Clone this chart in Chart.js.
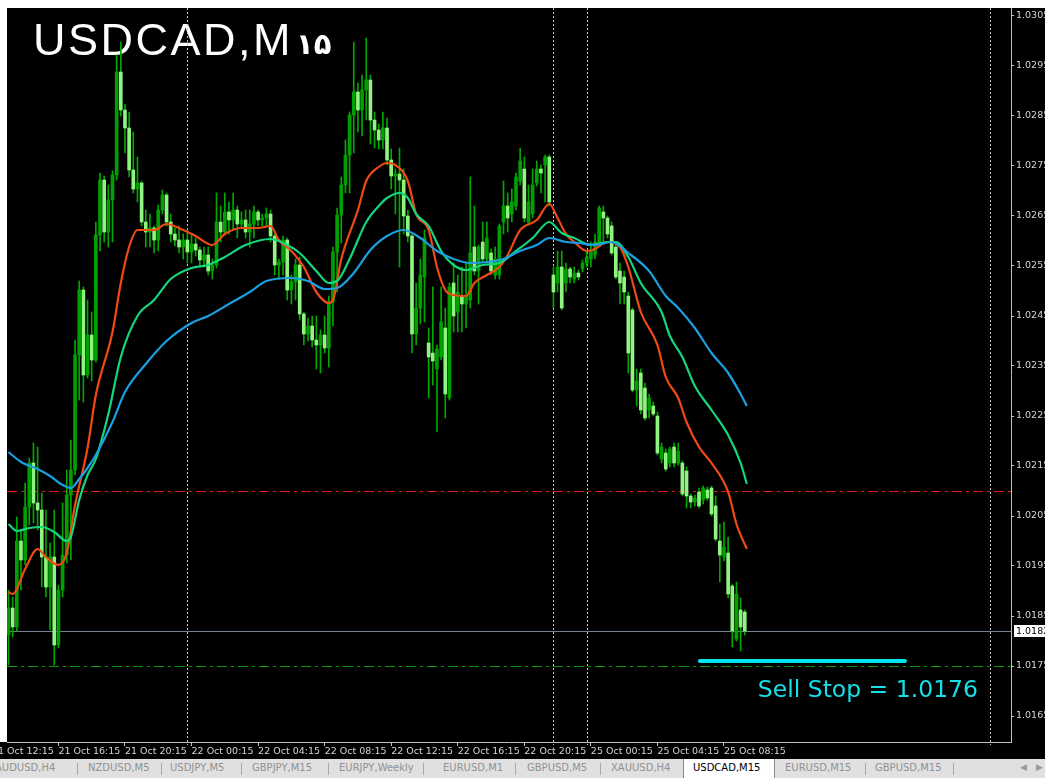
<!DOCTYPE html>
<html lang="en">
<head>
<meta charset="utf-8">
<title>USDCAD,M15</title>
<script src="https://cdn.jsdelivr.net/npm/chart.js@4.4.1/dist/chart.umd.min.js"></script>
<style>
  html, body { margin: 0; padding: 0; background: #fff; }
  body { position: relative; width: 1045px; height: 778px; overflow: hidden; font-family: "DejaVu Sans", sans-serif; }
  #chart { position: absolute; left: 0; top: 0; }
  #tabs { position: absolute; left: 0; top: 759px; width: 1045px; height: 19px; background: #e0e0e0; font-size: 10px; color: #929292; }
  #tabs .tab { position: absolute; top: 3px; white-space: nowrap; }
  #tabs .sep { position: absolute; top: 4px; width: 1px; height: 12px; background: #a8a8a8; }
  #tabs .active { position: absolute; top: 0; left: 683px; width: 90px; height: 19px; background: #fff; border-left: 1px solid #8a8a8a; border-right: 1px solid #8a8a8a; }
  #tabs .active span { position: absolute; left: 9px; top: 3px; color: #000; white-space: nowrap; }
  #tabs .arrow { position: absolute; top: 3px; font-size: 9px; color: #9a9a9a; }
</style>
</head>
<body>
<canvas id="chart" width="1045" height="759"></canvas>
<div id="tabs">
  <span class="tab" style="left:-5px">AUDUSD,H4</span><div class="sep" style="left:77px"></div>
  <span class="tab" style="left:88px">NZDUSD,M5</span><div class="sep" style="left:161px"></div>
  <span class="tab" style="left:170px">USDJPY,M5</span><div class="sep" style="left:241px"></div>
  <span class="tab" style="left:252px">GBPJPY,M15</span><div class="sep" style="left:328px"></div>
  <span class="tab" style="left:339px">EURJPY,Weekly</span><div class="sep" style="left:423px"></div>
  <span class="tab" style="left:443px">EURUSD,M1</span><div class="sep" style="left:515px"></div>
  <span class="tab" style="left:527px">GBPUSD,M5</span><div class="sep" style="left:600px"></div>
  <span class="tab" style="left:611px">XAUUSD,H4</span>
  <div class="active"><span>USDCAD,M15</span></div>
  <span class="tab" style="left:785px">EURUSD,M15</span><div class="sep" style="left:865px"></div>
  <span class="tab" style="left:875px">GBPUSD,M15</span><div class="sep" style="left:953px"></div>
  <span class="arrow" style="left:1020px">&#9664;</span>
  <span class="arrow" style="left:1036px">&#9654;</span>
</div>
<script>
// USDCAD M15 bars, 21 Oct 13:15 -> 25 Oct 09:30 (one entry per bar)
const opens = [
  1.01812, 1.01866, 1.01828, 1.02000, 1.01962, 1.02068, 1.02156, 1.02076, 1.02062, 1.01968,
  1.01908, 1.01968, 1.01792, 1.01902, 1.01972, 1.02092, 1.02142, 1.02372, 1.02502, 1.02332,
  1.02412, 1.02362, 1.02612, 1.02722, 1.02618, 1.02682, 1.02732, 1.02938, 1.02862, 1.02826,
  1.02742, 1.02704, 1.02716, 1.02638, 1.02618, 1.02626, 1.02602, 1.02662, 1.02692, 1.02638,
  1.02614, 1.02602, 1.02588, 1.02602, 1.02578, 1.02594, 1.02582, 1.02562, 1.02572, 1.02540,
  1.02552, 1.02638, 1.02618, 1.02658, 1.02642, 1.02662, 1.02634, 1.02642, 1.02618, 1.02634,
  1.02658, 1.02642, 1.02646, 1.02654, 1.02610, 1.02552, 1.02558, 1.02602, 1.02502, 1.02518,
  1.02552, 1.02454, 1.02414, 1.02430, 1.02402, 1.02392, 1.02412, 1.02386, 1.02478, 1.02578,
  1.02652, 1.02712, 1.02772, 1.02852, 1.02898, 1.02862, 1.02902, 1.02922, 1.02842, 1.02822,
  1.02802, 1.02826, 1.02762, 1.02730, 1.02734, 1.02722, 1.02650, 1.02610, 1.02414, 1.02466,
  1.02528, 1.02396, 1.02376, 1.02344, 1.02368, 1.02426, 1.02286, 1.02516, 1.02458, 1.02490,
  1.02474, 1.02482, 1.02588, 1.02540, 1.02598, 1.02564, 1.02576, 1.02532, 1.02532, 1.02638,
  1.02670, 1.02654, 1.02670, 1.02720, 1.02744, 1.02638, 1.02654, 1.02716, 1.02744, 1.02752,
  1.02768, 1.02532, 1.02516, 1.02548, 1.02516, 1.02544, 1.02524, 1.02536, 1.02544, 1.02556,
  1.02564, 1.02572, 1.02598, 1.02658, 1.02646, 1.02630, 1.02588, 1.02540, 1.02528, 1.02490,
  1.02462, 1.02302, 1.02336, 1.02306, 1.02262, 1.02270, 1.02250, 1.02164, 1.02176, 1.02156,
  1.02188, 1.02156, 1.02156, 1.02140, 1.02090, 1.02078, 1.02098, 1.02082, 1.02102, 1.02106,
  1.02070, 1.02000, 1.01968, 1.01976, 1.01910, 1.01804, 1.01862, 1.01858
];
const highs = [
  1.01902, 1.01888, 1.02048, 1.02022, 1.02116, 1.02166, 1.02196, 1.02188, 1.02096, 1.02062,
  1.01996, 1.02062, 1.01912, 1.02076, 1.02142, 1.02202, 1.02402, 1.02520, 1.02508, 1.02482,
  1.02458, 1.02638, 1.02736, 1.02730, 1.02712, 1.02740, 1.02972, 1.02998, 1.02874, 1.02858,
  1.02818, 1.02768, 1.02720, 1.02662, 1.02654, 1.02630, 1.02672, 1.02702, 1.02696, 1.02654,
  1.02626, 1.02630, 1.02614, 1.02622, 1.02614, 1.02606, 1.02588, 1.02588, 1.02588, 1.02564,
  1.02696, 1.02670, 1.02696, 1.02678, 1.02696, 1.02670, 1.02658, 1.02662, 1.02662, 1.02670,
  1.02662, 1.02654, 1.02666, 1.02662, 1.02614, 1.02564, 1.02610, 1.02606, 1.02532, 1.02564,
  1.02568, 1.02458, 1.02446, 1.02450, 1.02450, 1.02422, 1.02450, 1.02490, 1.02588, 1.02666,
  1.02728, 1.02802, 1.02858, 1.02998, 1.02916, 1.02932, 1.03006, 1.02932, 1.02858, 1.02834,
  1.02858, 1.02846, 1.02784, 1.02744, 1.02786, 1.02744, 1.02662, 1.02614, 1.02516, 1.02564,
  1.02622, 1.02426, 1.02508, 1.02392, 1.02508, 1.02466, 1.02516, 1.02556, 1.02532, 1.02548,
  1.02556, 1.02728, 1.02670, 1.02592, 1.02638, 1.02638, 1.02584, 1.02588, 1.02634, 1.02720,
  1.02696, 1.02704, 1.02736, 1.02786, 1.02768, 1.02712, 1.02744, 1.02760, 1.02752, 1.02772,
  1.02772, 1.02548, 1.02580, 1.02580, 1.02556, 1.02548, 1.02548, 1.02542, 1.02562, 1.02580,
  1.02598, 1.02614, 1.02670, 1.02670, 1.02650, 1.02638, 1.02598, 1.02556, 1.02540, 1.02498,
  1.02466, 1.02344, 1.02344, 1.02316, 1.02294, 1.02278, 1.02258, 1.02196, 1.02184, 1.02188,
  1.02196, 1.02196, 1.02160, 1.02148, 1.02094, 1.02092, 1.02106, 1.02110, 1.02108, 1.02110,
  1.02090, 1.02034, 1.02038, 1.02008, 1.01914, 1.01918, 1.01886, 1.01862
];
const lows = [
  1.01752, 1.01808, 1.01820, 1.01902, 1.01952, 1.02032, 1.02036, 1.02022, 1.01908, 1.01888,
  1.01822, 1.01752, 1.01786, 1.01888, 1.01956, 1.01962, 1.02132, 1.02282, 1.02278, 1.02326,
  1.02320, 1.02358, 1.02580, 1.02598, 1.02588, 1.02598, 1.02722, 1.02850, 1.02776, 1.02728,
  1.02696, 1.02678, 1.02630, 1.02588, 1.02588, 1.02576, 1.02580, 1.02654, 1.02630, 1.02598,
  1.02590, 1.02576, 1.02564, 1.02556, 1.02556, 1.02570, 1.02548, 1.02548, 1.02532, 1.02524,
  1.02546, 1.02598, 1.02612, 1.02614, 1.02622, 1.02606, 1.02626, 1.02606, 1.02588, 1.02606,
  1.02630, 1.02630, 1.02630, 1.02598, 1.02532, 1.02524, 1.02532, 1.02482, 1.02474, 1.02482,
  1.02442, 1.02392, 1.02400, 1.02388, 1.02344, 1.02336, 1.02376, 1.02348, 1.02430, 1.02498,
  1.02596, 1.02696, 1.02696, 1.02776, 1.02818, 1.02810, 1.02842, 1.02794, 1.02786, 1.02784,
  1.02784, 1.02752, 1.02704, 1.02654, 1.02548, 1.02614, 1.02598, 1.02376, 1.02392, 1.02434,
  1.02438, 1.02286, 1.02312, 1.02218, 1.02362, 1.02246, 1.02282, 1.02418, 1.02418, 1.02418,
  1.02426, 1.02466, 1.02532, 1.02474, 1.02556, 1.02556, 1.02532, 1.02524, 1.02524, 1.02614,
  1.02618, 1.02638, 1.02662, 1.02712, 1.02638, 1.02632, 1.02646, 1.02710, 1.02696, 1.02678,
  1.02670, 1.02466, 1.02498, 1.02462, 1.02498, 1.02516, 1.02516, 1.02522, 1.02538, 1.02548,
  1.02548, 1.02564, 1.02594, 1.02598, 1.02606, 1.02572, 1.02524, 1.02474, 1.02474, 1.02336,
  1.02298, 1.02270, 1.02254, 1.02242, 1.02246, 1.02250, 1.02172, 1.02156, 1.02140, 1.02148,
  1.02148, 1.02152, 1.02090, 1.02066, 1.02066, 1.02070, 1.02066, 1.02074, 1.02082, 1.02050,
  1.02000, 1.01918, 1.01960, 1.01886, 1.01788, 1.01800, 1.01780, 1.01812
];
const closes = [
  1.01866, 1.01828, 1.02000, 1.01962, 1.02068, 1.02156, 1.02076, 1.02062, 1.01968, 1.01908,
  1.01968, 1.01792, 1.01902, 1.01972, 1.02092, 1.02142, 1.02372, 1.02502, 1.02332, 1.02412,
  1.02362, 1.02612, 1.02722, 1.02618, 1.02682, 1.02732, 1.02938, 1.02862, 1.02826, 1.02742,
  1.02704, 1.02716, 1.02638, 1.02618, 1.02626, 1.02602, 1.02662, 1.02692, 1.02638, 1.02614,
  1.02602, 1.02588, 1.02602, 1.02578, 1.02594, 1.02582, 1.02562, 1.02572, 1.02540, 1.02552,
  1.02638, 1.02618, 1.02658, 1.02642, 1.02662, 1.02634, 1.02642, 1.02618, 1.02634, 1.02658,
  1.02642, 1.02646, 1.02654, 1.02610, 1.02552, 1.02558, 1.02602, 1.02502, 1.02518, 1.02552,
  1.02454, 1.02414, 1.02430, 1.02402, 1.02392, 1.02412, 1.02386, 1.02478, 1.02578, 1.02652,
  1.02712, 1.02772, 1.02852, 1.02898, 1.02862, 1.02902, 1.02922, 1.02842, 1.02822, 1.02802,
  1.02826, 1.02762, 1.02730, 1.02734, 1.02722, 1.02650, 1.02610, 1.02414, 1.02466, 1.02532,
  1.02606, 1.02368, 1.02360, 1.02384, 1.02438, 1.02294, 1.02508, 1.02450, 1.02498, 1.02474,
  1.02490, 1.02576, 1.02540, 1.02588, 1.02564, 1.02606, 1.02540, 1.02564, 1.02630, 1.02670,
  1.02646, 1.02678, 1.02728, 1.02760, 1.02646, 1.02678, 1.02712, 1.02744, 1.02736, 1.02768,
  1.02678, 1.02498, 1.02548, 1.02466, 1.02544, 1.02528, 1.02536, 1.02528, 1.02556, 1.02568,
  1.02580, 1.02598, 1.02666, 1.02646, 1.02614, 1.02576, 1.02528, 1.02516, 1.02498, 1.02376,
  1.02302, 1.02320, 1.02262, 1.02246, 1.02286, 1.02254, 1.02176, 1.02188, 1.02144, 1.02184,
  1.02156, 1.02180, 1.02094, 1.02090, 1.02078, 1.02086, 1.02070, 1.02106, 1.02086, 1.02054,
  1.02004, 1.01972, 1.01988, 1.01894, 1.01820, 1.01894, 1.01828, 1.01820
];

// moving averages, read at these bar numbers
const fastX = [0, 1, 4, 7, 9, 12, 14, 16, 19, 21, 25, 27, 29, 31, 35, 38, 42, 45, 49, 52, 56, 60, 63, 65, 68, 71, 74, 77, 78, 80,
  84, 86, 89, 91, 93, 96, 98, 101, 103, 105, 107, 110, 112, 115, 118, 120, 123, 127, 130, 132, 134, 136, 139, 141, 144, 147, 149,
  152, 156, 158, 161, 163, 166, 169, 173, 175, 177.5];
const fastMA = [1.01898, 1.01894, 1.01944, 1.01984, 1.01968, 1.01952, 1.01976, 1.02072, 1.02186, 1.02292, 1.02418, 1.02516,
  1.02588, 1.02622, 1.02622, 1.02634, 1.02622, 1.0261, 1.02592, 1.02614, 1.02626, 1.02626, 1.0263, 1.02602, 1.0258, 1.02548,
  1.02498, 1.02476, 1.02482, 1.02564, 1.02662, 1.0272, 1.02748, 1.02756, 1.02752, 1.0272, 1.02654, 1.02622, 1.02548, 1.02502,
  1.02492, 1.0249, 1.02516, 1.02532, 1.02548, 1.02572, 1.02622, 1.02642, 1.02674, 1.02646, 1.02614, 1.02598, 1.0258, 1.02584,
  1.02598, 1.02588, 1.02548, 1.02458, 1.02392, 1.02328, 1.02286, 1.02238, 1.02188, 1.02156, 1.02098, 1.02034, 1.01984];

const midX = [0, 2, 5, 8, 11, 14, 15, 17, 19, 21, 24, 27, 31, 35, 39, 44, 48, 52, 57, 63, 67, 70, 74, 77, 79, 82, 86, 89, 91, 94,
  96, 98, 101, 104, 107, 110, 114, 118, 122, 126, 130, 133, 136, 140, 144, 146, 149, 152, 157, 159, 162, 165, 169, 173, 176, 177.5];
const midMA = [1.02034, 1.0202, 1.02026, 1.02028, 1.02018, 1.02, 1.02008, 1.02082, 1.02132, 1.02164, 1.02254, 1.02368, 1.0245,
  1.02482, 1.02524, 1.02546, 1.02552, 1.02568, 1.02592, 1.02604, 1.02592, 1.02576, 1.0254, 1.02516, 1.0252, 1.02564, 1.02638,
  1.0267, 1.02686, 1.02696, 1.02686, 1.02654, 1.0263, 1.0258, 1.02552, 1.02542, 1.02552, 1.02556, 1.0258, 1.02606, 1.02638,
  1.02616, 1.02606, 1.02592, 1.02598, 1.02598, 1.02568, 1.02516, 1.02458, 1.0241, 1.02368, 1.0231, 1.02262, 1.02212, 1.02156, 1.02114];

const slowX = [0, 3, 7, 10, 13, 15, 17, 19, 21, 25, 28, 33, 38, 44, 48, 53, 58, 62, 68, 72, 76, 79, 83, 87, 91, 95, 99, 103, 107,
  111, 115, 119, 123, 127, 130, 134, 137, 141, 145, 149, 154, 158, 161, 165, 169, 173, 176, 177.5];
const slowMA = [1.02178, 1.02158, 1.02144, 1.0213, 1.02112, 1.02106, 1.02124, 1.02146, 1.02172, 1.02238, 1.02298, 1.02354, 1.024,
  1.02436, 1.0245, 1.02474, 1.02498, 1.0252, 1.02526, 1.0252, 1.02504, 1.02506, 1.02536, 1.02582, 1.0261, 1.02622, 1.02606,
  1.0258, 1.02564, 1.02556, 1.02558, 1.02564, 1.0258, 1.02592, 1.02606, 1.02598, 1.02596, 1.02592, 1.02598, 1.02576, 1.0254,
  1.0249, 1.02466, 1.02426, 1.02376, 1.02336, 1.02294, 1.0227];

// axis ticks
const timeTickIdx = [-4, 12, 28, 44, 60, 76, 92, 108, 124, 140, 156, 172];
const timeTickLabels = ['21 Oct 12:15', '21 Oct 16:15', '21 Oct 20:15', '22 Oct 00:15', '22 Oct 04:15', '22 Oct 08:15',
  '22 Oct 12:15', '22 Oct 16:15', '22 Oct 20:15', '25 Oct 00:15', '25 Oct 04:15', '25 Oct 08:15'];
const priceTicks = [1.0305, 1.0295, 1.0285, 1.0275, 1.0265, 1.0255, 1.0245, 1.0235, 1.0225, 1.0215, 1.0205, 1.0195, 1.0185, 1.0175, 1.0165];

// objects on the chart
const separators = [43, 131, 139, 236];
const redLevel = 1.0210;
const stopLevel = 1.0175;
const bidPrice = 1.0182;
const sellStop = 1.0176;
const sellStopFrom = 166.2;
const sellStopTo = 215.5;

const BULL = '#00a000';
const BEAR = '#90f480';
const FONT = '"DejaVu Sans", sans-serif';

const wicks = opens.map((o, i) => ({ x: i, y: [lows[i], highs[i]] }));
const bodies = opens.map((o, i) => ({ x: i, y: [o, closes[i]] }));
const bodyColors = opens.map((o, i) => (closes[i] >= o ? BULL : BEAR));
const pts = (xs, ys) => xs.map((v, k) => ({ x: v, y: ys[k] }));

const mt4Plugin = {
  id: 'mt4',
  beforeDraw(chart) {
    const c = chart.ctx;
    c.save();
    c.fillStyle = '#fff';
    c.fillRect(0, 0, chart.width, chart.height);
    c.fillStyle = '#000';
    c.fillRect(7, 8, chart.width - 7, chart.height - 8);
    c.fillRect(0, chart.chartArea.bottom, 7, chart.height - chart.chartArea.bottom);
    c.restore();
  },
  beforeDatasetsDraw(chart) {
    const { ctx: c, chartArea: a, scales: { x, y } } = chart;
    c.save();
    // symbol caption: latin part, then the Persian period digits
    c.fillStyle = '#fff';
    c.textBaseline = 'alphabetic';
    c.font = '45px "Liberation Sans", "DejaVu Sans", sans-serif';
    c.letterSpacing = '2.5px';
    c.fillText('USDCAD,M', 33, 55);
    c.letterSpacing = '0px';
    c.font = 'bold 29px "DejaVu Sans", sans-serif';
    c.fillText('۱۵', 296, 54);

    // day separators
    c.strokeStyle = '#c8c8c8';
    c.lineWidth = 1;
    c.setLineDash([2, 2]);
    separators.forEach(i => {
      const px = Math.round(x.getPixelForValue(i)) + 0.5;
      c.beginPath();
      c.moveTo(px, a.top);
      c.lineTo(px, a.bottom + 3);
      c.stroke();
    });

    // horizontal levels
    const hline = (v, color, dash) => {
      const py = Math.round(y.getPixelForValue(v)) + 0.5;
      c.strokeStyle = color;
      c.setLineDash(dash);
      c.beginPath();
      c.moveTo(a.left, py);
      c.lineTo(a.right, py);
      c.stroke();
    };
    hline(redLevel, '#e01818', [10, 4, 3, 4]);
    hline(stopLevel, '#0c960c', [10, 4, 3, 4]);
    hline(bidPrice, '#75828f', []);
    c.restore();
  },
  afterDraw(chart) {
    const { ctx: c, chartArea: a, scales: { y } } = chart;
    c.save();
    c.font = '23.5px ' + FONT;
    c.fillStyle = '#14e0e8';
    c.textAlign = 'right';
    c.textBaseline = 'alphabetic';
    c.fillText('Sell Stop = ' + sellStop.toFixed(4), 978, 697);

    // current price box on the axis
    const py = Math.round(y.getPixelForValue(bidPrice));
    c.fillStyle = '#fff';
    c.fillRect(a.right + 3, py - 6, 40, 12);
    c.fillStyle = '#000';
    c.font = '9.5px ' + FONT;
    c.textAlign = 'left';
    c.textBaseline = 'middle';
    c.fillText(bidPrice.toFixed(4), a.right + 5, py + 0.5);
    c.restore();
  }
};

new Chart(document.getElementById('chart'), {
  type: 'bar',
  data: {
    datasets: [
      { type: 'line', label: 'Sell Stop', data: [{ x: sellStopFrom, y: sellStop }, { x: sellStopTo, y: sellStop }],
        borderColor: '#00e4ee', borderWidth: 4, borderCapStyle: 'round', pointRadius: 0, order: 0 },
      { type: 'line', label: 'MA slow', data: pts(slowX, slowMA), borderColor: '#1a9fe0', borderWidth: 2.2,
        pointRadius: 0, cubicInterpolationMode: 'monotone', order: 1 },
      { type: 'line', label: 'MA mid', data: pts(midX, midMA), borderColor: '#14d67c', borderWidth: 2.2,
        pointRadius: 0, cubicInterpolationMode: 'monotone', order: 2 },
      { type: 'line', label: 'MA fast', data: pts(fastX, fastMA), borderColor: '#f04a14', borderWidth: 2.2,
        pointRadius: 0, cubicInterpolationMode: 'monotone', order: 3 },
      { label: 'body', data: bodies, backgroundColor: bodyColors, barThickness: 3, grouped: false,
        minBarLength: 1, order: 5 },
      { label: 'wick', data: wicks, backgroundColor: '#00a800', barThickness: 1, grouped: false, order: 6 }
    ]
  },
  options: {
    responsive: false,
    animation: false,
    devicePixelRatio: 1,
    layout: { padding: { left: 7, top: 8, right: 0, bottom: 0 } },
    plugins: { legend: { display: false }, tooltip: { enabled: false } },
    scales: {
      x: {
        type: 'linear',
        min: -0.36,
        max: 241,
        offset: false,
        afterBuildTicks: s => { s.ticks = timeTickIdx.map(v => ({ value: v })); },
        afterFit: s => { s.height = 17; s.paddingLeft = 0; s.paddingRight = 0; },
        grid: { offset: false, drawOnChartArea: false, drawTicks: true, tickLength: 4, color: '#c0c0c0' },
        border: { display: true, color: '#c0c0c0' },
        ticks: {
          align: 'start', maxRotation: 0, autoSkip: false, padding: 0, color: '#d4d4d4',
          font: { family: FONT, size: 9.5 },
          callback: (v, i) => timeTickLabels[i]
        }
      },
      y: {
        position: 'right',
        min: 1.01598,
        max: 1.03066,
        beginAtZero: false,
        afterBuildTicks: s => { s.ticks = priceTicks.map(v => ({ value: v })); },
        afterFit: s => { s.width = 34; s.paddingTop = 0; s.paddingBottom = 0; },
        grid: { drawOnChartArea: false, drawTicks: true, tickLength: 3, color: '#c0c0c0' },
        border: { display: true, color: '#c0c0c0' },
        ticks: {
          autoSkip: false, padding: 2, color: '#d4d4d4',
          font: { family: FONT, size: 9.5 },
          callback: v => Number(v).toFixed(4)
        }
      }
    }
  },
  plugins: [mt4Plugin]
});
</script>
</body>
</html>
